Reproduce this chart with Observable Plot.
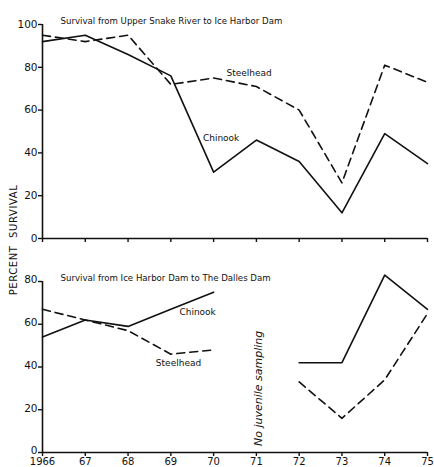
<!DOCTYPE html>
<html><head><meta charset="utf-8">
<script src="https://cdn.jsdelivr.net/npm/d3@7"></script>
<script src="https://cdn.jsdelivr.net/npm/@observablehq/plot@0.6"></script>
<style>
body{margin:0;background:#fff;}
#wrap{position:relative;width:434px;height:467px;font-family:"DejaVu Sans",sans-serif;color:#111;}
#wrap svg{display:block;}
#ylab{position:absolute;left:13px;top:240px;transform:translate(-50%,-50%) rotate(-90deg);font-size:10px;letter-spacing:0.6px;white-space:nowrap;}
</style></head><body><div id="wrap"><div id="ylab">PERCENT &nbsp;SURVIVAL</div></div>
<script>
const years = [1966,1967,1968,1969,1970,1971,1972,1973,1974,1975];
const yearLabels = ["1966","67","68","69","70","71","72","73","74","75"];
const upperChinook   = [92,95,86,76,31,46,36,12,49,35];
const upperSteelhead = [95,92,95,72,75,71,60,26,81,73];
const lowerChinook   = [54,62,59,67,75,NaN,42,42,83,67];
const lowerSteelhead = [67,62,57,46,48,NaN,33,16,34,65];
const upperTicks = [0,20,40,60,80,100];
const lowerTicks = [0,20,40,60,80];
const upperTitle = "Survival from Upper Snake River to Ice Harbor Dam";
const lowerTitle = "Survival from Ice Harbor Dam to The Dalles Dam";
const upperLabels = [{t:"Steelhead",x:1970.3,y:77.5},{t:"Chinook",x:1969.75,y:47}];
const lowerLabels = [{t:"Chinook",x:1969.2,y:65.5},{t:"Steelhead",x:1968.65,y:42}];
const noteText = "No juvenile sampling";
const noteAt = [{t:noteText,x:1971.05,y:30}];

const fmt = d => yearLabels[years.indexOf(d)];
const font = "DejaVu Sans, sans-serif";

function series(vals){ return years.map((y,i)=>({year:y, v:vals[i]})); }

function panel({h, mt, mb, domain, ticks, chin, steel, title, labels, showX, ydy, extra}){
  return Plot.plot({
    width:434, height:h, marginLeft:42, marginRight:7, marginTop:mt, marginBottom:mb,
    style:{fontFamily:font, fontSize:"11px", color:"#111", background:"white", overflow:"visible"},
    x:{domain:[1966,1975]},
    y:{domain},
    marks:[
      Plot.ruleX([1966],{y1:domain[0], y2:domain[1], stroke:"#111", strokeWidth:1.6}),
      Plot.ruleY([0],{x1:1966, x2:1975, stroke:"#111", strokeWidth:1.6}),
      Plot.axisY({ticks, tickSize:4, strokeWidth:1.4, text:null}),
      Plot.axisY({ticks, tickSize:0, tickPadding:5, fontSize:10.5, dy:ydy||0}),
      Plot.axisX({ticks:years, tickSize:4, tickPadding:1, fontSize:10, strokeWidth:1.4,
        tickFormat: showX ? fmt : () => ""}),
      Plot.line(series(chin),{x:"year", y:"v", stroke:"#111", strokeWidth:1.6}),
      Plot.line(series(steel),{x:"year", y:"v", stroke:"#111", strokeWidth:1.6, strokeDasharray:"8,5"}),
      Plot.text(labels,{x:"x", y:"y", text:"t", textAnchor:"start", fontSize:9, fill:"#111"}),
      Plot.text([title],{frameAnchor:"top-left", dx:18, dy:-7, textAnchor:"start", fontSize:8.6, fill:"#111"}),
      ...(extra||[])
    ]
  });
}

const wrap = document.getElementById("wrap");
wrap.appendChild(panel({h:250, mt:24, mb:12, domain:[0,100], ticks:upperTicks,
  chin:upperChinook, steel:upperSteelhead, title:upperTitle, labels:upperLabels, showX:false}));
wrap.appendChild(panel({h:217, mt:31, mb:15, domain:[0,80], ticks:lowerTicks,
  chin:lowerChinook, steel:lowerSteelhead, title:lowerTitle, labels:lowerLabels, showX:true, ydy:-1.5,
  extra:[Plot.text(noteAt,{x:"x", y:"y", text:"t", rotate:-90, fontSize:11, fontStyle:"italic", fill:"#111"})]}));
</script></body></html>
